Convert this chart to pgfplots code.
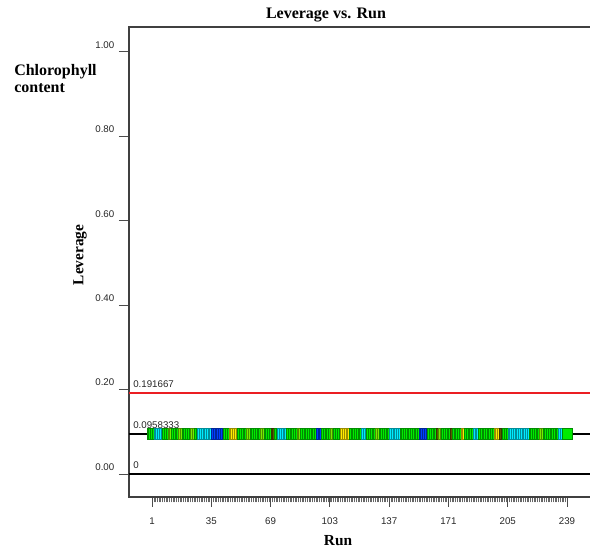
\documentclass[border=0pt]{standalone}
\usepackage{pgfplots}
\usepackage{pgfplotstable}
\pgfplotsset{compat=1.18}
\usepackage{fontspec}
\setmainfont{Liberation Serif}
\setsansfont{Liberation Sans}
\definecolor{cB}{RGB}{0,64,255}
\definecolor{cC}{RGB}{0,235,255}
\definecolor{cG}{RGB}{0,235,0}
\definecolor{cL}{RGB}{120,235,0}
\definecolor{cY}{RGB}{255,235,0}
\definecolor{cD}{RGB}{90,90,0}
\definecolor{refred}{RGB}{235,30,35}
\pgfplotstableread[row sep=\\]{
x y c\\
1 0.0958333 G\\ 2 0.0958333 G\\ 3 0.0958333 G\\ 4 0.0958333 G\\
5 0.0958333 C\\ 6 0.0958333 C\\ 7 0.0958333 C\\ 8 0.0958333 C\\ 9 0.0958333 C\\
10 0.0958333 G\\ 11 0.0958333 G\\ 12 0.0958333 G\\ 13 0.0958333 L\\ 14 0.0958333 L\\
15 0.0958333 G\\ 16 0.0958333 G\\ 17 0.0958333 G\\ 18 0.0958333 G\\ 19 0.0958333 L\\
20 0.0958333 L\\ 21 0.0958333 G\\ 22 0.0958333 G\\ 23 0.0958333 G\\ 24 0.0958333 G\\
25 0.0958333 G\\ 26 0.0958333 L\\ 27 0.0958333 L\\ 28 0.0958333 G\\ 29 0.0958333 G\\
30 0.0958333 C\\ 31 0.0958333 C\\ 32 0.0958333 C\\ 33 0.0958333 C\\ 34 0.0958333 C\\
35 0.0958333 C\\ 36 0.0958333 C\\ 37 0.0958333 C\\
38 0.0958333 B\\ 39 0.0958333 B\\ 40 0.0958333 B\\ 41 0.0958333 B\\ 42 0.0958333 B\\
43 0.0958333 B\\ 44 0.0958333 B\\
45 0.0958333 G\\ 46 0.0958333 G\\ 47 0.0958333 G\\
48 0.0958333 Y\\ 49 0.0958333 Y\\ 50 0.0958333 Y\\ 51 0.0958333 Y\\ 52 0.0958333 Y\\
53 0.0958333 G\\ 54 0.0958333 G\\ 55 0.0958333 G\\ 56 0.0958333 G\\ 57 0.0958333 G\\
58 0.0958333 L\\ 59 0.0958333 L\\
60 0.0958333 G\\ 61 0.0958333 G\\ 62 0.0958333 G\\ 63 0.0958333 G\\ 64 0.0958333 G\\ 65 0.0958333 G\\
66 0.0958333 L\\ 67 0.0958333 L\\
68 0.0958333 G\\ 69 0.0958333 G\\ 70 0.0958333 G\\ 71 0.0958333 G\\
72 0.0958333 D\\ 73 0.0958333 D\\ 74 0.0958333 G\\ 75 0.0958333 G\\
76 0.0958333 C\\ 77 0.0958333 C\\ 78 0.0958333 C\\ 79 0.0958333 C\\ 80 0.0958333 C\\
81 0.0958333 G\\ 82 0.0958333 G\\ 83 0.0958333 G\\ 84 0.0958333 G\\ 85 0.0958333 G\\ 86 0.0958333 G\\
87 0.0958333 L\\ 88 0.0958333 L\\
89 0.0958333 G\\ 90 0.0958333 G\\ 91 0.0958333 G\\ 92 0.0958333 G\\ 93 0.0958333 G\\
94 0.0958333 G\\ 95 0.0958333 G\\ 96 0.0958333 G\\ 97 0.0958333 G\\
98 0.0958333 B\\ 99 0.0958333 B\\ 100 0.0958333 B\\
101 0.0958333 G\\ 102 0.0958333 G\\ 103 0.0958333 G\\ 104 0.0958333 G\\ 105 0.0958333 G\\
106 0.0958333 L\\ 107 0.0958333 L\\
108 0.0958333 G\\ 109 0.0958333 G\\ 110 0.0958333 G\\ 111 0.0958333 G\\
112 0.0958333 Y\\ 113 0.0958333 Y\\ 114 0.0958333 Y\\ 115 0.0958333 Y\\ 116 0.0958333 Y\\
117 0.0958333 G\\ 118 0.0958333 G\\ 119 0.0958333 G\\ 120 0.0958333 G\\ 121 0.0958333 G\\
122 0.0958333 G\\ 123 0.0958333 G\\
124 0.0958333 C\\ 125 0.0958333 C\\ 126 0.0958333 C\\
127 0.0958333 G\\ 128 0.0958333 G\\ 129 0.0958333 G\\ 130 0.0958333 G\\ 131 0.0958333 G\\
132 0.0958333 L\\ 133 0.0958333 L\\
134 0.0958333 G\\ 135 0.0958333 G\\ 136 0.0958333 G\\ 137 0.0958333 G\\ 138 0.0958333 G\\ 139 0.0958333 G\\
140 0.0958333 C\\ 141 0.0958333 C\\ 142 0.0958333 C\\ 143 0.0958333 C\\ 144 0.0958333 C\\ 145 0.0958333 C\\
146 0.0958333 G\\ 147 0.0958333 G\\ 148 0.0958333 G\\ 149 0.0958333 G\\ 150 0.0958333 G\\
151 0.0958333 G\\ 152 0.0958333 G\\ 153 0.0958333 G\\ 154 0.0958333 G\\ 155 0.0958333 G\\ 156 0.0958333 G\\
157 0.0958333 B\\ 158 0.0958333 B\\ 159 0.0958333 B\\ 160 0.0958333 B\\ 161 0.0958333 B\\
162 0.0958333 G\\ 163 0.0958333 G\\ 164 0.0958333 G\\ 165 0.0958333 G\\ 166 0.0958333 G\\
167 0.0958333 D\\ 168 0.0958333 L\\ 169 0.0958333 L\\
170 0.0958333 G\\ 171 0.0958333 G\\ 172 0.0958333 G\\ 173 0.0958333 G\\ 174 0.0958333 G\\
175 0.0958333 D\\
176 0.0958333 G\\ 177 0.0958333 G\\ 178 0.0958333 G\\ 179 0.0958333 G\\ 180 0.0958333 G\\
181 0.0958333 Y\\ 182 0.0958333 Y\\
183 0.0958333 G\\ 184 0.0958333 G\\ 185 0.0958333 G\\ 186 0.0958333 G\\ 187 0.0958333 G\\
188 0.0958333 C\\ 189 0.0958333 C\\ 190 0.0958333 C\\
191 0.0958333 G\\ 192 0.0958333 G\\ 193 0.0958333 G\\ 194 0.0958333 G\\ 195 0.0958333 G\\
196 0.0958333 G\\ 197 0.0958333 G\\ 198 0.0958333 G\\ 199 0.0958333 G\\
200 0.0958333 Y\\ 201 0.0958333 Y\\ 202 0.0958333 Y\\
203 0.0958333 D\\ 204 0.0958333 D\\
205 0.0958333 G\\ 206 0.0958333 G\\ 207 0.0958333 G\\
208 0.0958333 C\\ 209 0.0958333 C\\ 210 0.0958333 C\\ 211 0.0958333 C\\ 212 0.0958333 C\\ 213 0.0958333 C\\
214 0.0958333 C\\ 215 0.0958333 C\\ 216 0.0958333 C\\ 217 0.0958333 C\\ 218 0.0958333 C\\ 219 0.0958333 C\\
220 0.0958333 G\\ 221 0.0958333 G\\ 222 0.0958333 G\\ 223 0.0958333 G\\ 224 0.0958333 G\\ 225 0.0958333 G\\
226 0.0958333 L\\ 227 0.0958333 L\\
228 0.0958333 G\\ 229 0.0958333 G\\ 230 0.0958333 G\\ 231 0.0958333 G\\ 232 0.0958333 G\\
233 0.0958333 G\\ 234 0.0958333 G\\ 235 0.0958333 G\\ 236 0.0958333 G\\
237 0.0958333 C\\ 238 0.0958333 C\\ 239 0.0958333 G\\
}\runs
\begin{document}
\begin{tikzpicture}
\useasboundingbox (0,0) rectangle (442.5pt,412.5pt);
\begin{axis}[
  at={(96.75pt,39.75pt)}, anchor=south west,
  scale only axis, width=347.25pt, height=352.5pt,
  xmin=-12.19, xmax=253.34, ymin=-0.0545, ymax=1.059,
  axis line style={black!75, line width=0.9pt},
  xtick={1,35,69,103,137,171,205,239},
  minor xtick={1,...,239},
  ytick={0,0.2,0.4,0.6,0.8,1.0},
  tick align=outside, tick pos=left,
  major tick length=7.5pt, minor tick length=4pt,
  every major tick/.append style={black!70, line width=0.6pt},
  every minor tick/.append style={black!60, line width=0.35pt},
  /pgf/number format/assume math mode=true,
  ticklabel style={font=\sffamily\fontsize{7.3}{8}\selectfont, text=black!85},
  yticklabel style={/pgf/number format/.cd, fixed, fixed zerofill, precision=2, /tikz/.cd, yshift=5.25pt},
  xticklabel style={/pgf/number format/.cd, fixed, precision=0, /tikz/.cd, yshift=-4.5pt},
  scaled y ticks=false,
]
\addplot[scatter, only marks, mark=square*, mark size=3.85pt,
  point meta=explicit symbolic,
  scatter/classes={
    B={mark=square*, fill=cB, draw=cB!60!black, line width=0.22pt},
    C={mark=square*, fill=cC, draw=cC!60!black, line width=0.22pt},
    G={mark=square*, fill=cG, draw=cG!60!black, line width=0.22pt},
    L={mark=square*, fill=cL, draw=cL!60!black, line width=0.22pt},
    Y={mark=square*, fill=cY, draw=cY!60!black, line width=0.22pt},
    D={mark=square*, fill=cD, draw=cD!60!black, line width=0.22pt}}]
  table[x=x, y=y, meta=c] {\runs};
\addplot[refred, line width=1.1pt] coordinates {(-12.19,0.191667) (253.34,0.191667)};
\addplot[black, line width=1.5pt] coordinates {(-12.19,0.0958333) (253.34,0.0958333)};
\addplot[black, line width=1.1pt] coordinates {(-12.19,0) (253.34,0)};
\node[anchor=base west, inner sep=0, yshift=4pt, font=\sffamily\fontsize{7.3}{8}\selectfont, text=black!85] at (axis cs:-9.9,0.191667) {0.191667};
\node[anchor=base west, inner sep=0, yshift=4pt, font=\sffamily\fontsize{7.3}{8}\selectfont, text=black!85] at (axis cs:-9.9,0.0958333) {0.0958333};
\node[anchor=base west, inner sep=0, yshift=4pt, font=\sffamily\fontsize{7.3}{8}\selectfont, text=black!85] at (axis cs:-9.9,0) {0};
\end{axis}
\node[font=\bfseries\fontsize{12}{13}\selectfont] at (244.5pt,401pt) {Leverage vs. Run};
\node[rotate=90, font=\bfseries\fontsize{11.5}{13}\selectfont] at (60pt,221.25pt) {Leverage};
\node[font=\bfseries\fontsize{11.5}{13}\selectfont] at (253.5pt,6.75pt) {Run};
\node[anchor=north west, align=left, inner sep=0, font=\bfseries\fontsize{12}{12.75}\selectfont] at (10.5pt,364.5pt) {Chlorophyll\\content};
\end{tikzpicture}
\end{document}
